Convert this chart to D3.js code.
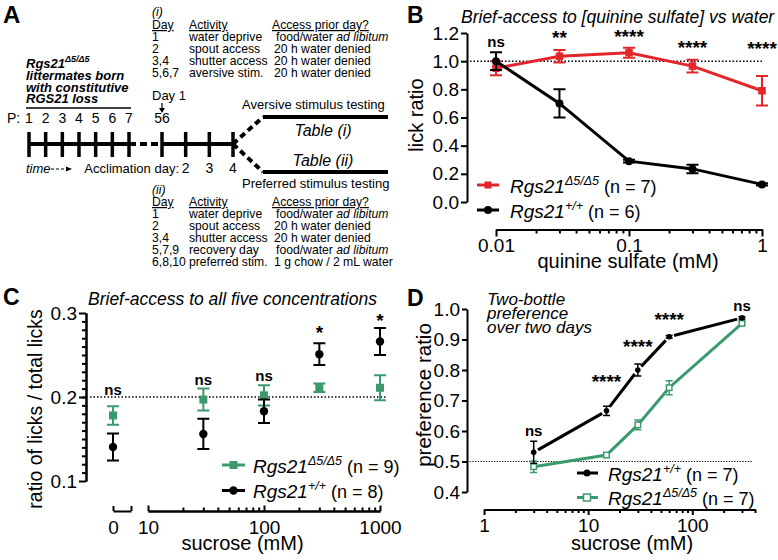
<!DOCTYPE html>
<html><head><meta charset="utf-8">
<script src="https://cdn.jsdelivr.net/npm/d3@7"></script>
<style>
body{margin:0;background:#fff}
svg{display:block}
text{font-family:"Liberation Sans", Arial, Helvetica, sans-serif; fill:#000}
</style></head><body>
<svg id="c" width="778" height="560"></svg>
<script>
// ================= DATA =================
// Panel A (timeline)
const postnatalDays = [1, 2, 3, 4, 5, 6, 7];
const acclimationDays = [1, 2, 3, 4];
const acclimationLabels = ["56", "2", "3", "4"];
const tableIHeader = ["Day", "Activity", "Access prior day?"];
const tableIRows = [
  ["1", "water deprive", "food/water ", "ad libitum"],
  ["2", "spout access", "20 h water denied", ""],
  ["3,4", "shutter access", "20 h water denied", ""],
  ["5,6,7", "aversive stim.", "20 h water denied", ""]
];
const tableIIRows = [
  ["1", "water deprive", "food/water ", "ad libitum"],
  ["2", "spout access", "20 h water denied", ""],
  ["3,4", "shutter access", "20 h water denied", ""],
  ["5,7,9", "recovery day", "food/water ", "ad libitum"],
  ["6,8,10", "preferred stim.", "1 g chow / 2 mL water", ""]
];

// Panel B
const quinineConc = [0.01, 0.03, 0.1, 0.3, 1];
const quinineKO = [0.95, 1.035, 1.06, 0.965, 0.79];
const quinineKOErr = [0.05, 0.045, 0.035, 0.045, 0.105];
const quinineWT = [1.0, 0.70, 0.29, 0.235, 0.125];
const quinineWTErr = [0.063, 0.10, 0.01, 0.03, 0.008];
const quinineSig = ["ns", "**", "****", "****", "****"];
const quinineSigY = [1.135, 1.20, 1.207, 1.122, 1.115];
const quinineTicksY = [0, 0.2, 0.4, 0.6, 0.8, 1.0, 1.2];
const quinineTicksX = [0.01, 0.1, 1];

// Panel C
const sucroseConcC = [0, 30, 100, 300, 1000];
const lickKO = [0.178, 0.197, 0.202, 0.211, 0.211];
const lickKOErr = [0.011, 0.013, 0.012, 0.005, 0.015];
const lickWT = [0.1405, 0.156, 0.183, 0.251, 0.266];
const lickWTErr = [0.016, 0.018, 0.014, 0.013, 0.016];
const lickSig = ["ns", "ns", "ns", "*", "*"];
const lickSigY = [0.2077, 0.2202, 0.2244, 0.281, 0.2964];
const lickTicksY = [0.1, 0.2, 0.3];
const lickTicksX = [10, 100, 1000];

// Panel D
const sucroseConcD = [3, 15, 30, 60, 300];
const prefWT = [0.530, 0.666, 0.80, 0.909, 0.971];
const prefWTErr = [0.036, 0.015, 0.02, 0.004, 0.004];
const prefKO = [0.483, 0.521, 0.62, 0.742, 0.953];
const prefKOErr = [0.019, 0.006, 0.016, 0.023, 0.006];
const prefSig = ["ns", "****", "****", "****", "ns"];
const prefSigY = [0.597, 0.774, 0.889, 0.98, 1.007];
const prefTicksY = [0.4, 0.5, 0.6, 0.7, 0.8, 0.9, 1.0];
const prefTicksX = [1, 10, 100];

// ================= DRAW =================
const RED = "#e3262b", GREEN = "#3b9a6d";
const svg = d3.select("#c");

function styleAxis(g) {
  g.select(".domain").attr("stroke", "#000").attr("stroke-width", 2);
  g.selectAll(".tick line").attr("stroke", "#000").attr("stroke-width", 2);
  g.selectAll(".tick text").attr("font-size", 19).attr("font-family", null).attr("fill", "#000");
}
function minorLog(decades, maxV) {
  const out = [];
  decades.forEach(d => { for (let k = 2; k <= 9; k++) { const v = +(d * k).toPrecision(3); if (v <= maxV) out.push(v); } });
  return out;
}
function text(g, x, y, s, o = {}) {
  const t = g.append("text").attr("x", x).attr("y", y).text(s)
    .attr("font-size", o.size || 12)
    .attr("text-anchor", o.anchor || "start");
  if (o.italic) t.attr("font-style", "italic");
  if (o.bold) t.attr("font-weight", "bold");
  if (o.underline) t.style("text-decoration", "underline");
  return t;
}
function sigLabel(g, x, yc, label) {
  const star = label.includes("*");
  g.append("text").attr("x", x).attr("y", yc + (star ? 10.5 : 4.5))
    .attr("text-anchor", "middle").attr("font-weight", "bold")
    .attr("font-size", star ? 19 : 15).text(label);
}
function legendText(g, x, y, sup, n) {
  const t = g.append("text").attr("x", x).attr("y", y);
  t.append("tspan").attr("font-style", "italic").attr("font-size", 19).text("Rgs21");
  t.append("tspan").attr("font-style", "italic").attr("font-size", 12.5).attr("dy", -8).text(sup);
  t.append("tspan").attr("font-size", 18).attr("dy", 8).text(" (n = " + n + ")");
}
function errorBars(g, xs, ys, es, xS, yS, color, cap, sw) {
  xs.forEach((x, i) => {
    const px = xS(x), y1 = yS(ys[i] - es[i]), y2 = yS(ys[i] + es[i]);
    const p = d3.path();
    p.moveTo(px, y1); p.lineTo(px, y2);
    p.moveTo(px - cap, y1); p.lineTo(px + cap, y1);
    p.moveTo(px - cap, y2); p.lineTo(px + cap, y2);
    g.append("path").attr("d", p.toString()).attr("stroke", color).attr("stroke-width", sw).attr("fill", "none");
  });
}
function squares(g, xs, ys, xS, yS, size, fill, stroke, sw) {
  xs.forEach((x, i) => {
    g.append("rect").attr("x", xS(x) - size / 2).attr("y", yS(ys[i]) - size / 2)
      .attr("width", size).attr("height", size).attr("fill", fill)
      .attr("stroke", stroke || "none").attr("stroke-width", sw || 0);
  });
}
function circles(g, xs, ys, xS, yS, r, fill) {
  xs.forEach((x, i) => {
    g.append("circle").attr("cx", xS(x)).attr("cy", yS(ys[i])).attr("r", r).attr("fill", fill);
  });
}

// ---------- Panel A ----------
const gA = svg.append("g");
text(gA, 3, 23, "A", { size: 24, bold: true });
const xP = d3.scaleLinear().domain([1, 7]).range([29, 129]);
const xAcc = d3.scaleLinear().domain([1, 4]).range([162, 233]);
const yLine = 144;
// Rgs21 block
{
  const t = gA.append("text").attr("x", 26).attr("y", 68).attr("font-weight", "bold").attr("font-style", "italic");
  t.append("tspan").attr("font-size", 13).text("Rgs21");
  t.append("tspan").attr("font-size", 9).attr("dy", -6).text("Δ5/Δ5");
  text(gA, 26, 80, "littermates born", { size: 13, bold: true, italic: true });
  text(gA, 26, 92, "with constitutive", { size: 13, bold: true, italic: true });
  text(gA, 26, 103, "RGS21 loss", { size: 13, bold: true, italic: true });
  gA.append("line").attr("x1", 26).attr("x2", 131).attr("y1", 108).attr("y2", 108).attr("stroke", "#000").attr("stroke-width", 1.5);
}
// Labels above
text(gA, 7, 123, "P:", { size: 14 });
postnatalDays.forEach(d => text(gA, xP(d), 123, String(d), { size: 14, anchor: "middle" }));
text(gA, xAcc(1), 123, acclimationLabels[0], { size: 14, anchor: "middle" });
text(gA, 152, 100, "Day 1", { size: 13 });
gA.append("line").attr("x1", xAcc(1)).attr("x2", xAcc(1)).attr("y1", 103).attr("y2", 109).attr("stroke", "#000").attr("stroke-width", 1.2);
gA.append("path").attr("d", `M${xAcc(1) - 3},108 L${xAcc(1) + 3},108 L${xAcc(1)},113 Z`).attr("fill", "#000");
// timeline
gA.append("line").attr("x1", xP(1)).attr("x2", xP(7)).attr("y1", yLine).attr("y2", yLine).attr("stroke", "#000").attr("stroke-width", 4);
gA.append("line").attr("x1", xP(7)).attr("x2", xAcc(1)).attr("y1", yLine).attr("y2", yLine).attr("stroke", "#000").attr("stroke-width", 4).attr("stroke-dasharray", "7,4");
gA.append("line").attr("x1", xAcc(1)).attr("x2", xAcc(4)).attr("y1", yLine).attr("y2", yLine).attr("stroke", "#000").attr("stroke-width", 4);
postnatalDays.forEach(d => gA.append("line").attr("x1", xP(d)).attr("x2", xP(d)).attr("y1", 132).attr("y2", 157).attr("stroke", "#000").attr("stroke-width", 3.5));
acclimationDays.forEach(d => gA.append("line").attr("x1", xAcc(d)).attr("x2", xAcc(d)).attr("y1", 132).attr("y2", 157).attr("stroke", "#000").attr("stroke-width", 3.5));
// branches
[[117], [172]].forEach(([yy]) => {
  gA.append("line").attr("x1", xAcc(4)).attr("y1", yLine).attr("x2", 263).attr("y2", yy).attr("stroke", "#000").attr("stroke-width", 4).attr("stroke-dasharray", "6,4");
  gA.append("line").attr("x1", 263).attr("y1", yy).attr("x2", 388).attr("y2", yy).attr("stroke", "#000").attr("stroke-width", 4);
});
text(gA, 242, 109, "Aversive stimulus testing", { size: 13 });
text(gA, 323, 136, "Table (i)", { size: 16, italic: true, anchor: "middle" });
text(gA, 323, 166, "Table (ii)", { size: 16, italic: true, anchor: "middle" });
text(gA, 242, 188, "Preferred stimulus testing", { size: 13 });
// below timeline
text(gA, 26, 173, "time", { size: 13, italic: true });
gA.append("line").attr("x1", 51).attr("x2", 67).attr("y1", 169).attr("y2", 169).attr("stroke", "#000").attr("stroke-width", 1.2).attr("stroke-dasharray", "3,2");
gA.append("path").attr("d", "M66,166.5 L72,169 L66,171.5 Z").attr("fill", "#000");
text(gA, 179, 173, "Acclimation day:", { size: 13, anchor: "end" });
acclimationDays.slice(1).forEach((d, i) => text(gA, xAcc(d), 173, acclimationLabels[i + 1], { size: 14, anchor: "middle" }));
// tables
function drawTable(label, yLabel, yHead, rows) {
  text(gA, 152, yLabel, label, { size: 12.2, italic: true });
  text(gA, 152, yHead, tableIHeader[0], { size: 12.2, underline: true });
  text(gA, 189, yHead, tableIHeader[1], { size: 12.2, underline: true });
  text(gA, 272, yHead, tableIHeader[2], { size: 12.2, underline: true });
  rows.forEach((r, i) => {
    const y = yHead + 12 * (i + 1);
    text(gA, 152, y, r[0], { size: 12.2 });
    text(gA, 189, y, r[1], { size: 12.2 });
    const t = gA.append("text").attr("x", r[3] ? 276 : 274).attr("y", y).attr("font-size", 12.2);
    t.append("tspan").text(r[2]);
    if (r[3]) t.append("tspan").attr("font-style", "italic").text(r[3]);
  });
}
drawTable("(i)", 16, 29, tableIRows);
drawTable("(ii)", 194, 206, tableIIRows);

// ---------- Panel B ----------
const gB = svg.append("g");
text(gB, 407, 23, "B", { size: 23, bold: true });
text(gB, 461, 22.5, "Brief-access to [quinine sulfate] vs water", { size: 17.5, italic: true });
const xB = d3.scaleLog().domain([0.01, 1]).range([496, 762]);
const yB = d3.scaleLinear().domain([0, 1.2]).range([202, 33]);
gB.append("g").attr("transform", "translate(467,0)")
  .call(d3.axisLeft(yB).tickValues(quinineTicksY).tickFormat(d3.format(".1f")).tickSize(6).tickPadding(2).tickSizeOuter(0))
  .call(styleAxis);
gB.append("g").attr("transform", "translate(0,229.5)")
  .call(d3.axisBottom(xB).tickValues(minorLog([0.01, 0.1], 1)).tickFormat(() => "").tickSize(4).tickSizeOuter(0))
  .call(styleAxis);
gB.append("g").attr("transform", "translate(0,229.5)")
  .call(d3.axisBottom(xB).tickValues(quinineTicksX).tickFormat(d => String(d)).tickSize(7).tickPadding(2).tickSizeOuter(0))
  .call(styleAxis);
text(gB, 628, 268, "quinine sulfate (mM)", { size: 20, anchor: "middle" });
gB.append("text").attr("transform", "translate(423,115) rotate(-90)").attr("text-anchor", "middle").attr("font-size", 20).text("lick ratio");
gB.append("line").attr("x1", 470).attr("x2", 763).attr("y1", yB(1)).attr("y2", yB(1)).attr("stroke", "#000").attr("stroke-width", 1.5).attr("stroke-dasharray", "1.5,2");
const lineB = d3.line().x(d => xB(d[0])).y(d => yB(d[1]));
gB.append("path").attr("d", lineB(d3.zip(quinineConc, quinineKO))).attr("stroke", RED).attr("stroke-width", 3).attr("fill", "none");
errorBars(gB, quinineConc, quinineKO, quinineKOErr, xB, yB, RED, 6, 2);
squares(gB, quinineConc, quinineKO, xB, yB, 7.5, RED);
gB.append("path").attr("d", lineB(d3.zip(quinineConc, quinineWT))).attr("stroke", "#000").attr("stroke-width", 3).attr("fill", "none");
errorBars(gB, quinineConc, quinineWT, quinineWTErr, xB, yB, "#000", 6, 2);
circles(gB, quinineConc, quinineWT, xB, yB, 4, "#000");
quinineConc.forEach((x, i) => sigLabel(gB, xB(x), yB(quinineSigY[i]), quinineSig[i]));
// legend B
gB.append("line").attr("x1", 477).attr("x2", 499).attr("y1", 185).attr("y2", 185).attr("stroke", RED).attr("stroke-width", 3);
gB.append("rect").attr("x", 484.5).attr("y", 181.5).attr("width", 7).attr("height", 7).attr("fill", RED);
legendText(gB, 510, 192.5, "Δ5/Δ5", 7);
gB.append("line").attr("x1", 477).attr("x2", 499).attr("y1", 210).attr("y2", 210).attr("stroke", "#000").attr("stroke-width", 3);
gB.append("circle").attr("cx", 488).attr("cy", 210).attr("r", 4).attr("fill", "#000");
legendText(gB, 510, 217.5, "+/+", 6);

// ---------- Panel C ----------
const gC = svg.append("g");
text(gC, 3, 305, "C", { size: 23, bold: true });
text(gC, 88, 305, "Brief-access to all five concentrations", { size: 17.5, italic: true });
const yC = d3.scaleLinear().domain([0.1, 0.3]).range([481, 313]);
const xClog = d3.scaleLog().domain([10, 1000]).range([148, 380]);
const xCzero = d3.scaleLinear().domain([0, 1]).range([113, 131]);
const xC = d => d === 0 ? xCzero(0) : xClog(d);
gC.append("g").attr("transform", "translate(86,0)")
  .call(d3.axisLeft(yC).tickValues(d3.range(11, 30).map(k => k / 100)).tickFormat(() => "").tickSize(4).tickSizeOuter(0))
  .call(styleAxis);
gC.append("g").attr("transform", "translate(86,0)")
  .call(d3.axisLeft(yC).tickValues(lickTicksY).tickFormat(d3.format(".1f")).tickSize(7).tickPadding(2).tickSizeOuter(0))
  .call(styleAxis);
gC.append("g").attr("transform", "translate(0,511)")
  .call(d3.axisBottom(xCzero).tickValues([0, 1]).tickFormat(d => d === 0 ? "0" : "").tickSize(-5).tickPadding(10).tickSizeOuter(0))
  .call(styleAxis);
gC.append("g").attr("transform", "translate(0,511)")
  .call(d3.axisBottom(xClog).tickValues(minorLog([10, 100], 1000)).tickFormat(() => "").tickSize(-3.5).tickSizeOuter(0))
  .call(styleAxis);
gC.append("g").attr("transform", "translate(0,511)")
  .call(d3.axisBottom(xClog).tickValues(lickTicksX).tickFormat(d => String(d)).tickSize(-5.5).tickPadding(10).tickSizeOuter(0))
  .call(styleAxis);
text(gC, 242.5, 550, "sucrose (mM)", { size: 20, anchor: "middle" });
gC.append("text").attr("transform", "translate(42,409) rotate(-90)").attr("text-anchor", "middle").attr("font-size", 19.5).text("ratio of licks / total licks");
gC.append("line").attr("x1", 90).attr("x2", 387).attr("y1", yC(0.2)).attr("y2", yC(0.2)).attr("stroke", "#000").attr("stroke-width", 1.5).attr("stroke-dasharray", "1.5,2");
errorBars(gC, sucroseConcC, lickKO, lickKOErr, xC, yC, GREEN, 6, 2);
squares(gC, sucroseConcC, lickKO, xC, yC, 8, GREEN);
errorBars(gC, sucroseConcC, lickWT, lickWTErr, xC, yC, "#000", 6, 2);
circles(gC, sucroseConcC, lickWT, xC, yC, 4.2, "#000");
sucroseConcC.forEach((x, i) => sigLabel(gC, xC(x), yC(lickSigY[i]), lickSig[i]));
// legend C
gC.append("line").attr("x1", 222).attr("x2", 245).attr("y1", 465).attr("y2", 465).attr("stroke", GREEN).attr("stroke-width", 3);
gC.append("rect").attr("x", 229.5).attr("y", 461).attr("width", 8).attr("height", 8).attr("fill", GREEN);
legendText(gC, 253, 472.5, "Δ5/Δ5", 9);
gC.append("line").attr("x1", 222).attr("x2", 245).attr("y1", 490.5).attr("y2", 490.5).attr("stroke", "#000").attr("stroke-width", 3);
gC.append("circle").attr("cx", 233.5).attr("cy", 490.5).attr("r", 4.2).attr("fill", "#000");
legendText(gC, 253, 497.5, "+/+", 8);

// ---------- Panel D ----------
const gD = svg.append("g");
text(gD, 407, 306, "D", { size: 23, bold: true });
text(gD, 487, 305, "Two-bottle", { size: 17, italic: true });
text(gD, 487, 319, "preference", { size: 17, italic: true });
text(gD, 487, 333, "over two days", { size: 17, italic: true });
const yD = d3.scaleLinear().domain([0.4, 1.0]).range([492, 309]);
const xD = d3.scaleLog().domain([1, 400]).range([484, 755]);
gD.append("g").attr("transform", "translate(467,0)")
  .call(d3.axisLeft(yD).tickValues(prefTicksY).tickFormat(d3.format(".1f")).tickSize(5).tickPadding(2).tickSizeOuter(0))
  .call(styleAxis);
gD.append("g").attr("transform", "translate(0,509.5)")
  .call(d3.axisBottom(xD).tickValues(minorLog([1, 10, 100], 400)).tickFormat(() => "").tickSize(3.5).tickSizeOuter(0))
  .call(styleAxis);
gD.append("g").attr("transform", "translate(0,509.5)")
  .call(d3.axisBottom(xD).tickValues(prefTicksX).tickFormat(d => String(d)).tickSize(5.5).tickPadding(3.5).tickSizeOuter(0))
  .call(styleAxis);
text(gD, 632, 550, "sucrose (mM)", { size: 20, anchor: "middle" });
gD.append("text").attr("transform", "translate(431,395) rotate(-90)").attr("text-anchor", "middle").attr("font-size", 20.5).text("preference ratio");
gD.append("line").attr("x1", 467).attr("x2", 753).attr("y1", yD(0.5)).attr("y2", yD(0.5)).attr("stroke", "#000").attr("stroke-width", 1).attr("stroke-dasharray", "1.2,1.5");
// green KO line
const lineD = d3.line().x(d => xD(d[0])).y(d => yD(d[1]));
gD.append("path").attr("d", lineD(d3.zip(sucroseConcD, prefKO))).attr("stroke", GREEN).attr("stroke-width", 3).attr("fill", "none");
errorBars(gD, sucroseConcD, prefKO, prefKOErr, xD, yD, GREEN, 3.5, 1.5);
squares(gD, sucroseConcD, prefKO, xD, yD, 5.5, "#fff", GREEN, 1.5);
// black WT line with small gaps at markers
{
  const pts = sucroseConcD.map((x, i) => [xD(x), yD(prefWT[i])]);
  const gap = 5;
  for (let i = 0; i < pts.length - 1; i++) {
    const [x1, y1] = pts[i], [x2, y2] = pts[i + 1];
    const L = Math.hypot(x2 - x1, y2 - y1), ux = (x2 - x1) / L, uy = (y2 - y1) / L;
    gD.append("line").attr("x1", x1 + ux * gap).attr("y1", y1 + uy * gap)
      .attr("x2", x2 - ux * gap).attr("y2", y2 - uy * gap).attr("stroke", "#000").attr("stroke-width", 3);
  }
}
errorBars(gD, sucroseConcD, prefWT, prefWTErr, xD, yD, "#000", 3.5, 1.5);
circles(gD, sucroseConcD, prefWT, xD, yD, 2.8, "#000");
sucroseConcD.forEach((x, i) => sigLabel(gD, xD(x), yD(prefSigY[i]), prefSig[i]));
// legend D
gD.append("line").attr("x1", 577).attr("x2", 598).attr("y1", 473).attr("y2", 473).attr("stroke", "#000").attr("stroke-width", 3);
gD.append("circle").attr("cx", 587).attr("cy", 473).attr("r", 3.5).attr("fill", "#000");
legendText(gD, 608, 481, "+/+", 7);
gD.append("line").attr("x1", 577).attr("x2", 598).attr("y1", 497.5).attr("y2", 497.5).attr("stroke", GREEN).attr("stroke-width", 3);
gD.append("rect").attr("x", 583.5).attr("y", 494).attr("width", 7).attr("height", 7).attr("fill", "#fff").attr("stroke", GREEN).attr("stroke-width", 1.5);
legendText(gD, 608, 505, "Δ5/Δ5", 7);
</script>
</body></html>
